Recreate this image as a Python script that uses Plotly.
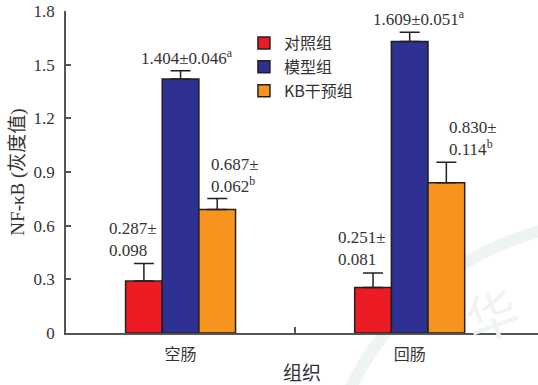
import plotly.graph_objects as go

# ---- data ----
categories = ["空肠", "回肠"]
series_names = ["对照组", "模型组", "KB干预组"]
control_vals = [0.29, 0.255]
control_err = [0.098, 0.081]
model_vals = [1.42, 1.63]
model_err = [0.046, 0.051]
kb_vals = [0.69, 0.84]
kb_err = [0.062, 0.114]
colors = ["#ED1C24", "#2E3192", "#F7941D"]
ytick_vals = [0, 0.3, 0.6, 0.9, 1.2, 1.5, 1.8]
ytick_text = ["0", "0.3", "0.6", "0.9", "1.2", "1.5", "1.8"]

FONT = "Liberation Serif, Times New Roman, Noto Sans CJK SC, serif"
CJK = "Noto Sans CJK SC, Liberation Serif, serif"
EDGE = "#231F20"

xs = list(range(len(categories)))
fig = go.Figure()
for name, vals, errs, col in zip(series_names,
                                  [control_vals, model_vals, kb_vals],
                                  [control_err, model_err, kb_err], colors):
    fig.add_trace(go.Bar(
        x=xs, y=vals, name=name,
        marker=dict(color=col, line=dict(color=EDGE, width=1.5)),
        error_y=dict(type="data", array=errs, arrayminus=[0] * len(errs),
                     symmetric=False, color=EDGE, thickness=1.5, width=10),
    ))

# ---- value labels (text) ----
lab_font = dict(family=FONT, size=17, color="#333333")
labels = [
    # x, y, text, xanchor
    (0.03, 1.545, "1.404±0.046<sup>a</sup>", "center"),
    (1.04, 1.762, "1.609±0.051<sup>a</sup>", "center"),
    (0.125, 0.88, "0.687±<br>0.062<sup>b</sup>", "left"),
    (1.164, 1.09, "0.830±<br>0.114<sup>b</sup>", "left"),
    (-0.322, 0.52, "0.287±<br>0.098", "left"),
    (0.678, 0.47, "0.251±<br>0.081", "left"),
]
for x, y, t, xa in labels:
    fig.add_annotation(x=x, y=y, xref="x", yref="y", text=t, showarrow=False,
                       xanchor=xa, yanchor="middle", align="left", font=lab_font)

# ---- faint watermark ----
fig.add_shape(type="circle", xref="paper", yref="paper",
              x0=0.538, x1=1.81, y0=-1.512, y1=0.351,
              line=dict(color="#EEF3F4", width=12), layer="below")
fig.add_annotation(xref="paper", yref="paper", x=0.9, y=0.06, text="华",
                   showarrow=False, textangle=-20, xanchor="center", yanchor="middle",
                   font=dict(family=CJK, size=52, color="#EEF3F4"))

fig.update_layout(
    width=538, height=385,
    margin=dict(l=66, r=0, t=11, b=52, autoexpand=False),
    paper_bgcolor="white", plot_bgcolor="rgba(0,0,0,0)",
    barmode="group", bargap=0.52, bargroupgap=0,
    font=dict(family=FONT, size=16, color="#333333"),
    showlegend=True,
    legend=dict(x=0.377, y=0.953, xanchor="left", yanchor="top",
                bgcolor="rgba(0,0,0,0)", font=dict(family=CJK, size=16, color="#333333"),
                itemwidth=30, tracegroupgap=2),
    xaxis=dict(
        range=[-0.5, 1.56], tickvals=xs, ticktext=categories,
        ticks="", showgrid=False, zeroline=False,
        showline=True, linecolor="#555555", linewidth=1.5,
        tickfont=dict(family=CJK, size=16, color="#333333"),
        ticklabelstandoff=6,
        minor=dict(tickmode="array", tickvals=[0.5], ticks="inside",
                   ticklen=6, tickwidth=1.5, tickcolor="#555555", showgrid=False),
        title=dict(text="组织", font=dict(family=CJK, size=19, color="#333333"),
                   standoff=4),
    ),
    yaxis=dict(
        range=[0, 1.8], tickvals=ytick_vals, ticktext=ytick_text,
        ticks="inside", ticklen=5, tickwidth=1.5, tickcolor="#555555",
        showgrid=False, zeroline=False,
        showline=True, linecolor="#555555", linewidth=1.5,
        tickfont=dict(family=FONT, size=17, color="#333333"),
        ticklabelstandoff=6,
        title=dict(text="NF-κB (灰度值)", font=dict(family=FONT, size=19, color="#333333"),
                   standoff=4),
    ),
)

fig.write_html("out.html")
